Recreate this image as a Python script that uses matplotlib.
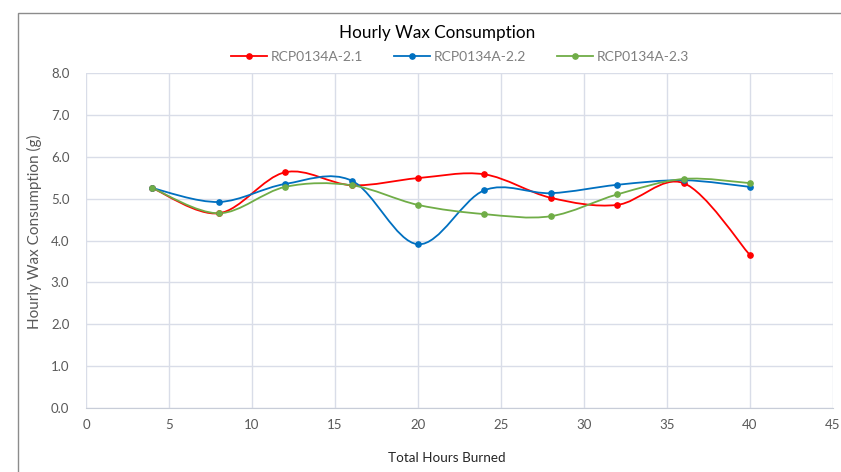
import matplotlib
matplotlib.use("Agg")
import matplotlib.pyplot as plt
import numpy as np
from matplotlib.path import Path
from matplotlib.patches import PathPatch, Rectangle

hours = [4, 8, 12, 16, 20, 24, 28, 32, 36, 40]
wax_21 = [5.25, 4.65, 5.63, 5.32, 5.49, 5.58, 5.02, 4.85, 5.37, 3.65]
wax_22 = [5.25, 4.92, 5.35, 5.43, 3.91, 5.20, 5.13, 5.33, 5.44, 5.28]
wax_23 = [5.25, 4.65, 5.28, 5.32, 4.85, 4.63, 4.58, 5.10, 5.47, 5.37]
labels = ["RCP0134A-2.1", "RCP0134A-2.2", "RCP0134A-2.3"]
colors = ["#ff0000", "#0070c0", "#70ad47"]

plt.rcParams['font.family'] = ['Lato', 'DejaVu Sans']

W, H = 841, 472
fig = plt.figure(figsize=(W / 100, H / 100), dpi=100)
ax = fig.add_axes([86 / W, 1 - 408 / H, (833 - 86) / W, (408 - 73) / H])

# outer chart frame
fig.patches.append(Rectangle((18 / W, -0.1), 1.2, 1 - 13 / H + 0.1, transform=fig.transFigure,
                             fill=False, edgecolor="#8c8c8c", linewidth=1.0))


def smooth_path(x, y):
    # Excel-style smoothed line: cubic Bezier with Catmull-Rom control points
    pts = np.column_stack([x, y]).astype(float)
    verts = [pts[0]]
    codes = [Path.MOVETO]
    n = len(pts)
    for i in range(n - 1):
        p0 = pts[max(i - 1, 0)]
        p1 = pts[i]
        p2 = pts[i + 1]
        p3 = pts[min(i + 2, n - 1)]
        c1 = p1 + (p2 - p0) / 6
        c2 = p2 - (p3 - p1) / 6
        verts += [c1, c2, p2]
        codes += [Path.CURVE4] * 3
    return Path(verts, codes)


for ys, lab, c in zip([wax_21, wax_22, wax_23], labels, colors):
    ax.add_patch(PathPatch(smooth_path(hours, ys), facecolor="none", edgecolor=c, lw=1.3, zorder=3))
    ax.plot(hours, ys, linestyle="none", marker="o", markersize=3.8, color=c, zorder=4)
    ax.plot([], [], color=c, lw=1.3, marker="o", markersize=3.8, label=lab)

ax.set_xlim(0, 45)
ax.set_ylim(0, 8)
ax.set_xticks(range(0, 46, 5))
ax.set_yticks(np.arange(0, 8.1, 1))
ax.set_yticklabels([f"{v:.1f}" for v in np.arange(0, 8.1, 1)])
ax.grid(True, color="#d9dde8", lw=1.0)
ax.set_axisbelow(True)
for s in ["top", "right", "left"]:
    ax.spines[s].set_visible(False)
ax.spines["bottom"].set_color("#c8cdd8")
ax.tick_params(length=0, labelsize=9.5, colors="#595959", pad=8)
ax.tick_params(axis="y", pad=12)

ax.set_xlabel("Total Hours Burned", fontsize=9.7, color="#262626")
ax.xaxis.set_label_coords((447 - 86) / 747, -(452 - 408) / 335)
ax.set_ylabel("Hourly Wax Consumption (g)", fontsize=11, color="#595959")
ax.yaxis.set_label_coords(-(86 - 42) / 747, (408 - 232) / 335)

fig.text(437 / W, 1 - 33 / H, "Hourly Wax Consumption", ha="center", va="center",
         fontsize=12.3, color="#000000")
fig.legend(loc="center", bbox_to_anchor=(460 / W, 1 - 57 / H), ncol=3, frameon=False,
           fontsize=10, labelcolor="#7f7f7f", handlelength=2.6, columnspacing=2.2,
           handletextpad=0.3)

fig.savefig("out.png", dpi=100)
